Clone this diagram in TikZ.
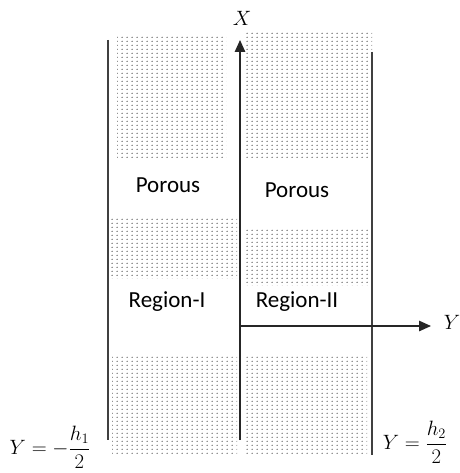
\documentclass[tikz,border=0pt]{standalone}
\usepackage{amsmath}
\usepackage{fontspec}
\setsansfont{Carlito}
\usetikzlibrary{arrows.meta, positioning, patterns.meta}

\tikzdeclarepattern{
  name=sparsedots,
  type=uncolored,
  bounding box={(0pt,0pt) and (5pt,3.7pt)},
  tile size={(5pt,3.7pt)},
  code={\fill (2.5pt,1.85pt) circle (0.65pt);}
}

\begin{document}
\begin{tikzpicture}[x=1pt, y=-1pt,
        porous/.style={pattern=sparsedots, pattern color=black},
        wall/.style={draw=black!75, line width=1.2pt},
        axis/.style={draw=black!85, line width=1.3pt, -{Triangle[length=12pt, width=10.5pt]}},
        lbl/.style={font=\sffamily\fontsize{23}{27}\selectfont},
        mlbl/.style={font=\fontsize{20}{24}\selectfont}]
        \useasboundingbox (0,0) rectangle (459,473);
        
        % dotted porous blocks, left channel
        \fill[porous] (117,37) rectangle (226,159);
        \fill[porous] (110,218) rectangle (237,278);
        \fill[porous] (112,355) rectangle (237,455);
        
        % dotted porous blocks, right channel
        \fill[porous] (243,33) rectangle (372,158);
        \fill[porous] (243,227) rectangle (368,285);
        \fill[porous] (243,355) rectangle (367,455);
        
        % walls
        \coordinate (lwtop) at (108,40);
        \coordinate (lwbot) at (108,440);
        \coordinate (rwtop) at (372,52);
        \coordinate (rwbot) at (372,455);
        \draw[wall] (lwtop) -- (lwbot);
        \draw[wall] (rwtop) -- (rwbot);
        
        % axes
        \coordinate (xbot) at (240,440);
        \coordinate (xtip) at (240,40);
        \coordinate (origin) at (240,326);
        \coordinate (ytip) at (431,326);
        \draw[axis] (xbot) -- (xtip);
        \draw[axis] (origin) -- (ytip);
        \node[mlbl] (xlabel) at (242,18) {$X$};
        \node[mlbl] (ylabel) at (452,322) {$Y$};
        
        % region labels
        \node[lbl] (porl) at (168,185) {Porous};
        \node[lbl] (porr) at (297,190) {Porous};
        \node[lbl] (regl) at (167,302) {Region-I};
        \node[lbl] (regr) at (297,302) {Region-II};
        
        % boundary labels
        \node[mlbl] (bndl) at (50,447) {$Y=-\dfrac{h_1}{2}$};
        \node[mlbl] (bndr) at (415,442) {$Y=\dfrac{h_2}{2}$};
\end{tikzpicture}
\end{document}
